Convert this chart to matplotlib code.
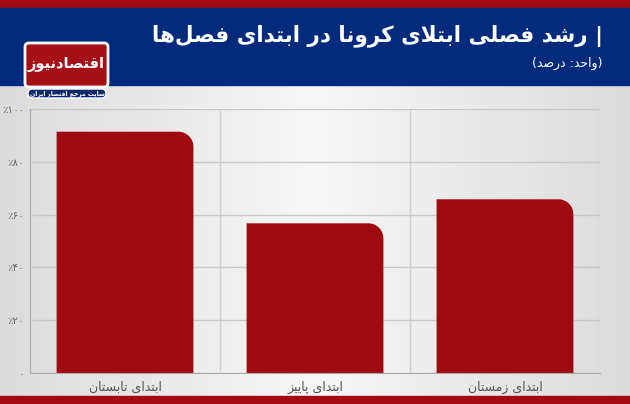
import matplotlib
matplotlib.use('Agg')
import matplotlib.pyplot as plt
from matplotlib.patches import FancyBboxPatch, PathPatch, Rectangle
from matplotlib.path import Path
import numpy as np

# data
categories = ['ابتدای تابستان', 'ابتدای پاییز', 'ابتدای زمستان']
values = [91.4, 56.7, 65.8]
yticks = [0, 20, 40, 60, 80, 100]
ytick_labels = ['۰', '٪۲۰', '٪۴۰', '٪۶۰', '٪۸۰', '٪۱۰۰']
title = 'رشد فصلی ابتلای کرونا در ابتدای فصل\u200cها'
subtitle = '(واحد: درصد)'
logo_name = 'اقتصادنیوز'
logo_tag = 'سایت مرجع اقتصاد ایران'

# simple persian shaping: (isolated, final, initial, medial)
FORMS = {
    'ا': (0xFE8D, 0xFE8E), 'ب': (0xFE8F, 0xFE90, 0xFE91, 0xFE92),
    'ت': (0xFE95, 0xFE96, 0xFE97, 0xFE98), 'ح': (0xFEA1, 0xFEA2, 0xFEA3, 0xFEA4),
    'ج': (0xFE9D, 0xFE9E, 0xFE9F, 0xFEA0),
    'د': (0xFEA9, 0xFEAA), 'ر': (0xFEAD, 0xFEAE), 'ز': (0xFEAF, 0xFEB0),
    'س': (0xFEB1, 0xFEB2, 0xFEB3, 0xFEB4), 'ش': (0xFEB5, 0xFEB6, 0xFEB7, 0xFEB8),
    'ص': (0xFEB9, 0xFEBA, 0xFEBB, 0xFEBC), 'ع': (0xFEC9, 0xFECA, 0xFECB, 0xFECC),
    'ف': (0xFED1, 0xFED2, 0xFED3, 0xFED4), 'ق': (0xFED5, 0xFED6, 0xFED7, 0xFED8),
    'ل': (0xFEDD, 0xFEDE, 0xFEDF, 0xFEE0), 'م': (0xFEE1, 0xFEE2, 0xFEE3, 0xFEE4),
    'ن': (0xFEE5, 0xFEE6, 0xFEE7, 0xFEE8), 'ه': (0xFEE9, 0xFEEA, 0xFEEB, 0xFEEC),
    'و': (0xFEED, 0xFEEE), 'ی': (0xFBFC, 0xFBFD, 0xFBFE, 0xFBFF),
    'ک': (0xFB8E, 0xFB8F, 0xFB90, 0xFB91), 'پ': (0xFB56, 0xFB57, 0xFB58, 0xFB59),
}
MIRROR = {'(': ')', ')': '('}


def shape(s):
    out = []
    i = 0
    while i < len(s):
        c = s[i]
        if c not in FORMS:
            out.append(MIRROR.get(c, c))
            i += 1
            continue
        prev = s[i - 1] if i > 0 else ''
        joins_prev = prev in FORMS and len(FORMS[prev]) == 4
        nxt = s[i + 1] if i + 1 < len(s) else ''
        if c == 'ل' and nxt == 'ا':
            out.append(chr(0xFEFC if joins_prev else 0xFEFB))
            i += 2
            continue
        joins_next = len(FORMS[c]) == 4 and nxt in FORMS
        f = FORMS[c]
        if joins_prev and joins_next:
            g = f[3]
        elif joins_prev:
            g = f[1]
        elif joins_next:
            g = f[2]
        else:
            g = f[0]
        out.append(chr(g))
        i += 1
    return ''.join(out[::-1])


plt.rcParams['font.family'] = ['DejaVu Sans']

fig = plt.figure(figsize=(6.3, 4.04), dpi=100)
H = 404.0

# background bands
bg = fig.add_axes([0, 0, 1, 1])
bg.set_xlim(0, 630)
bg.set_ylim(404, 0)
bg.axis('off')
grad = np.linspace(0, 1, 256)
grad = np.minimum(grad, 1 - grad) * 2
bg.imshow(np.vstack([grad, grad]), extent=(0, 630, 396, 85), aspect='auto',
          cmap=matplotlib.colors.LinearSegmentedColormap.from_list('g', ['#dcdcdc', '#f7f7f7']))
bg.add_patch(Rectangle((0, 0), 630, 8, color='#a00a10'))
bg.add_patch(Rectangle((0, 8), 630, 77, color='#002b7c'))
bg.add_patch(Rectangle((0, 396), 630, 8, color='#a00a10'))

# logo
bg.add_patch(FancyBboxPatch((25, 43), 83, 44, boxstyle='round,pad=0,rounding_size=4',
                            fc='#a50f16', ec='white', lw=2, zorder=3))
bg.text(66, 64, shape(logo_name), color='white', fontsize=10.5, fontweight='bold',
        ha='center', va='center', zorder=4)
bg.add_patch(FancyBboxPatch((28, 89), 78, 9, boxstyle='round,pad=0,rounding_size=4.5',
                            fc='#0c2a6b', ec='white', lw=1, zorder=3))
bg.text(67, 93.5, shape(logo_tag), color='white', fontsize=4.4, fontweight='bold',
        ha='center', va='center', zorder=4)

# title
bg.text(603, 36, shape(title) + ' |', color='white', fontsize=15.5, fontweight='bold',
        ha='right', va='center')
bg.text(603, 63, shape(subtitle), color='white', fontsize=9, ha='right', va='center')

# chart
ax = fig.add_axes([30 / 630, 1 - 373 / H, 570 / 630, 264 / H])
ax.set_facecolor('none')
ax.set_xlim(-0.5, 2.5)
ax.set_ylim(0, 100)
ax.set_yticks(yticks)
ax.set_yticklabels(ytick_labels, fontsize=7.5, color='#666666')
ax.set_xticks(range(len(categories)))
ax.set_xticklabels([shape(c) for c in categories], fontsize=9, color='#555555')
ax.tick_params(length=0, pad=4)
ax.tick_params(axis='x', pad=6)
for v in yticks:
    ax.axhline(v, color='#c8c8c8', lw=1, zorder=0)
for xb in [-0.5, 0.5, 1.5, 2.5]:
    ax.axvline(xb, color='#d0d0d0', lw=1, zorder=0)
for s in ax.spines.values():
    s.set_visible(False)
ax.spines['left'].set_visible(True)
ax.spines['left'].set_color('#aaaaaa')
ax.spines['bottom'].set_visible(True)
ax.spines['bottom'].set_color('#aaaaaa')

# rounded-top-right bars
w = 0.72
r_px = 15
rx = r_px / 570 * 3
ry = r_px / 264 * 100
k = 0.5523
for i, v in enumerate(values):
    x0, x1 = i - w / 2, i + w / 2
    verts = [(x0, 0), (x0, v), (x1 - rx, v),
             (x1 - rx + k * rx, v), (x1, v - ry + k * ry), (x1, v - ry),
             (x1, 0), (x0, 0)]
    codes = [Path.MOVETO, Path.LINETO, Path.LINETO,
             Path.CURVE4, Path.CURVE4, Path.CURVE4,
             Path.LINETO, Path.CLOSEPOLY]
    ax.add_patch(PathPatch(Path(verts, codes), fc='#9e0a10', ec='none', zorder=2))

fig.savefig('out.png', dpi=100)
